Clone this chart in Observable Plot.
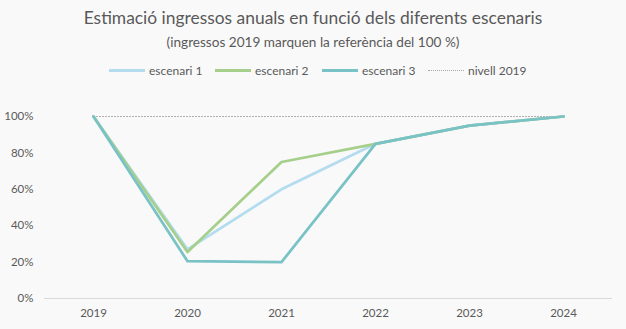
<!DOCTYPE html>
<html>
<head>
<meta charset="utf-8">
<script src="https://cdn.jsdelivr.net/npm/d3@7"></script>
<script src="https://cdn.jsdelivr.net/npm/@observablehq/plot@0.6"></script>
<style>
  html, body { margin: 0; padding: 0; background: #f9f9f9; }
  #wrap { position: relative; width: 626px; height: 329px; overflow: hidden; font-family: Lato, "Open Sans", sans-serif; color: #595959; }
  #title { position: absolute; left: 0; width: 626px; top: 7px; text-align: center; font-size: 17.4px; }
  #subtitle { position: absolute; left: 0; width: 626px; top: 34px; text-align: center; font-size: 13.6px; }
  #legend { position: absolute; top: 62px; left: 0; width: 626px; height: 16px; font-size: 12px; }
  .item { position: absolute; top: 0; display: flex; align-items: center; height: 16px; }
  .sw { width: 36px; height: 0; margin-right: 4px; }
  #chart { position: absolute; left: 0; top: 100px; }
</style>
</head>
<body>
<div id="wrap">
  <div id="title">Estimació ingressos anuals en funció dels diferents escenaris</div>
  <div id="subtitle">(ingressos 2019 marquen la referència del 100 %)</div>
  <div id="legend"></div>
  <div id="chart"></div>
</div>
<script>
const years = ["2019", "2020", "2021", "2022", "2023", "2024"];
const escenari1 = [100, 27, 60, 85, 95, 100];
const escenari2 = [100, 25.5, 75, 85, 95, 100];
const escenari3 = [100, 20.5, 20, 85, 95, 100];
const nivell2019 = [100, 100, 100, 100, 100, 100];
const seriesNames = ["escenari 1", "escenari 2", "escenari 3", "nivell 2019"];
const seriesColors = ["#b3dcef", "#a6cf8c", "#79c2c6", "#a6a6a6"];
const yTicks = [0, 20, 40, 60, 80, 100];

const toRows = (vals, name) => years.map((y, i) => ({year: y, value: vals[i], series: name}));
const s1 = toRows(escenari1, seriesNames[0]);
const s2 = toRows(escenari2, seriesNames[1]);
const s3 = toRows(escenari3, seriesNames[2]);
const ref = toRows(nivell2019, seriesNames[3]);

// legend
const legend = document.getElementById("legend");
const legendX = [109, 215, 322, 428];
seriesNames.forEach((name, i) => {
  const it = document.createElement("div");
  it.className = "item";
  it.style.left = legendX[i] + "px";
  const sw = document.createElement("div");
  sw.className = "sw";
  if (i < 3) {
    sw.style.borderTop = "3px solid " + seriesColors[i];
  } else {
    sw.style.borderTop = "1px dotted " + seriesColors[i];
  }
  const t = document.createElement("span");
  t.textContent = name;
  it.appendChild(sw);
  it.appendChild(t);
  legend.appendChild(it);
});

const plot = Plot.plot({
  width: 626,
  height: 229,
  marginTop: 16,
  marginBottom: 31,
  marginLeft: 44,
  marginRight: 14,
  style: { background: "transparent", fontFamily: "Lato, 'Open Sans', sans-serif", fontSize: "11.5px", color: "#595959" },
  x: { type: "point", domain: years, padding: 0.5, label: null },
  y: { domain: [0, 100], ticks: yTicks, label: null, tickFormat: d => d + "%" },
  marks: [
    Plot.ruleY([0], { stroke: "#d9d9d9", strokeWidth: 1 }),
    Plot.axisY({ ticks: yTicks, tickSize: 0, tickPadding: 11, tickFormat: d => d + "%", label: null }),
    Plot.axisX({ tickSize: 0, tickPadding: 10, label: null }),
    Plot.line(ref, { x: "year", y: "value", stroke: seriesColors[3], strokeWidth: 1, strokeDasharray: "1,2" }),
    Plot.line(s1, { x: "year", y: "value", stroke: seriesColors[0], strokeWidth: 2.75, strokeLinejoin: "round" }),
    Plot.line(s2, { x: "year", y: "value", stroke: seriesColors[1], strokeWidth: 2.75, strokeLinejoin: "round" }),
    Plot.line(s3, { x: "year", y: "value", stroke: seriesColors[2], strokeWidth: 2.75, strokeLinejoin: "round" })
  ]
});
document.getElementById("chart").appendChild(plot);
</script>
</body>
</html>
